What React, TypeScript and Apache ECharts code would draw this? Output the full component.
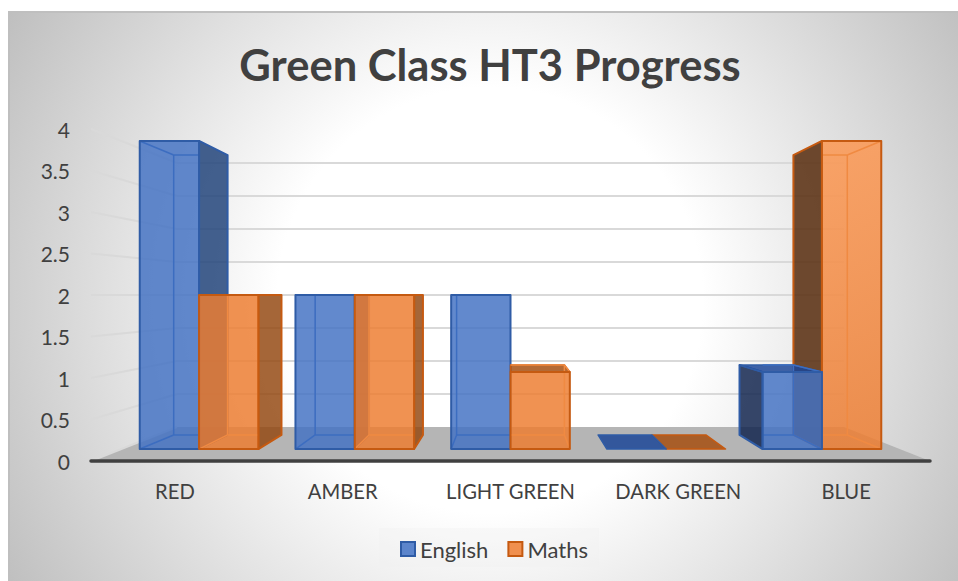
import React, { useEffect, useRef } from "react";
import * as echarts from "echarts";

const categories = ["RED", "AMBER", "LIGHT GREEN", "DARK GREEN", "BLUE"];
const english = [4, 2, 2, 0, 1];
const maths = [2, 2, 1, 0, 4];
const yTicks = [0, 0.5, 1, 1.5, 2, 2.5, 3, 3.5, 4];
const FONT = "Lato, 'Open Sans', sans-serif";

const S_FRONT = 0.928;
const S_BACK = 0.843;
const S_WALL = 0.795;
const BAR_RATIO = 0.381;
const HORIZON = 2;

const blue = {
  front: "rgba(68,114,196,0.84)", edge: "#2f5ca6", inner: "#3c6dc0",
  sideR: "rgba(32,67,122,0.84)", sideL: "rgba(17,36,78,0.84)", top: "rgba(26,69,151,0.84)",
};
const orange = {
  front: "rgba(237,125,49,0.84)", edge: "#c55a11", inner: "#f08a42",
  sideR: "rgba(148,73,18,0.84)", sideL: "rgba(85,40,9,0.84)", top: "rgba(166,77,14,0.84)",
};

function makeBarRender(seriesIdx: number, c: any) {
  return (_p: any, api: any) => {
    const cat = api.value(0);
    const v = api.value(1);
    const [catX, yTop] = api.coord([cat, v]);
    const yBase = api.coord([cat, 0])[1];
    const cx = api.coord([2, 0])[0];
    const hy = api.coord([0, HORIZON])[1];
    const barW = api.size([1, 0])[0] * BAR_RATIO;
    const x0 = seriesIdx === 0 ? catX - barW : catX;
    const x1 = seriesIdx === 0 ? catX : catX + barW;
    const pr = (x: number, y: number, s: number) => [cx + (x - cx) * s, hy + (y - hy) * s];
    const f = (x: number, y: number) => pr(x, y, S_FRONT);
    const b = (x: number, y: number) => pr(x, y, S_BACK);
    const rightOfCentre = cat > 2;
    const order = cat * 2 + (rightOfCentre ? 1 - seriesIdx : seriesIdx);
    const base = order * 10;
    const kids: any[] = [];
    const poly = (points: number[][], style: any, z: number) =>
      kids.push({ type: "polygon", shape: { points }, style, z2: base + z });
    const fl = f(x0, 0)[0];
    const fr = f(x1, 0)[0];
    const clamp = (x: number) => Math.max(fl, Math.min(fr, x));

    if (v > 0) {
      const sx = rightOfCentre ? x0 : x1;
      const bsx = b(sx, 0)[0];
      const fsx = f(sx, 0)[0];
      const outward = rightOfCentre ? bsx < fsx : bsx > fsx;
      if (outward) {
        poly([f(sx, yTop), b(sx, yTop), b(sx, yBase), f(sx, yBase)],
          { fill: rightOfCentre ? c.sideL : c.sideR, stroke: c.edge, lineWidth: 2, lineJoin: "round" }, 1);
      }
    }
    if (v < HORIZON) {
      poly([f(x0, yTop), f(x1, yTop), b(x1, yTop), b(x0, yTop)],
        { fill: c.top, stroke: c.edge, lineWidth: 1.5, lineJoin: "round" }, 2);
    }
    if (v > 0) {
      let frontFill: any = c.front;
      if (seriesIdx === 1 && v > HORIZON) {
        frontFill = new echarts.graphic.LinearGradient(0, 0, 0, 1, [
          { offset: 0, color: "rgba(252,150,80,0.84)" },
          { offset: 1, color: c.front },
        ]);
      }
      poly([f(x0, yTop), f(x1, yTop), f(x1, yBase), f(x0, yBase)], { fill: frontFill }, 3);
      const inner = { fill: "none", stroke: c.inner, lineWidth: 1.5 };
      const by0 = b(x0, yBase)[1];
      const byT = b(x0, yTop)[1];
      const bl = clamp(b(x0, 0)[0]);
      const br = clamp(b(x1, 0)[0]);
      poly([[bl, by0], [br, by0]], inner, 4);
      if (v !== HORIZON) poly([[bl, byT], [br, byT]], inner, 4);
      [x0, x1].forEach((xx) => {
        const bx = b(xx, 0)[0];
        if (bx > fl + 1 && bx < fr - 1) {
          poly([[bx, byT], [bx, by0]], inner, 4);
          poly([f(xx, yBase), b(xx, yBase)], inner, 4);
          if (v !== HORIZON) poly([f(xx, yTop), b(xx, yTop)], inner, 4);
        }
      });
      poly([f(x0, yTop), f(x1, yTop), f(x1, yBase), f(x0, yBase)],
        { fill: "none", stroke: c.edge, lineWidth: 2, lineJoin: "round" }, 5);
    }
    return { type: "group", children: kids };
  };
}

function renderFloor(_p: any, api: any) {
  const l = api.coord([0, 0]);
  const size = api.size([1, 0])[0];
  const left = l[0] - size / 2;
  const right = left + size * categories.length;
  const cx = (left + right) / 2;
  const hy = api.coord([0, HORIZON])[1];
  const pr = (x: number, y: number) => [cx + (x - cx) * S_WALL, hy + (y - hy) * S_WALL];
  return {
    type: "polygon",
    shape: { points: [[left, l[1]], [right, l[1]], pr(right, l[1]), pr(left, l[1])] },
    style: { fill: "#b5b5b5" },
  };
}

function renderWallLine(_p: any, api: any) {
  const t = api.value(0);
  const c0 = api.coord([0, t]);
  const size = api.size([1, 0])[0];
  const left = c0[0] - size / 2;
  const right = left + size * categories.length;
  const cx = (left + right) / 2;
  const hy = api.coord([0, HORIZON])[1];
  const pr = (x: number, y: number) => [cx + (x - cx) * S_WALL, hy + (y - hy) * S_WALL];
  const a = pr(left, c0[1]);
  const b = pr(right, c0[1]);
  const style = { stroke: "#d9d9d9", lineWidth: 2, fill: "none" };
  const children: any[] = [
    { type: "line", shape: { x1: left, y1: c0[1], x2: a[0], y2: a[1] }, style },
  ];
  if (t > 0) children.push({ type: "line", shape: { x1: a[0], y1: a[1], x2: b[0], y2: b[1] }, style });
  return { type: "group", children };
}

export default function App() {
  const ref = useRef<HTMLDivElement>(null);
  useEffect(() => {
    const chart = echarts.init(ref.current!, undefined, { renderer: "svg" });
    chart.setOption({
      animation: false,
      graphic: {
        elements: [
          {
            type: "rect",
            z: -10,
            silent: true,
            shape: { x: 9, y: 12, width: 960, height: 580 },
            style: {
              fill: new echarts.graphic.RadialGradient(490, 300, 560, [
                { offset: 0, color: "#ffffff" },
                { offset: 0.38, color: "#ffffff" },
                { offset: 1, color: "#bfbfbf" },
              ], true),
              stroke: "#bfbfbf",
              lineWidth: 2,
            },
          },
        ],
      },
      title: {
        text: "Green Class HT3 Progress",
        left: 485,
        top: 37,
        textAlign: "center",
        textStyle: { fontFamily: FONT, fontSize: 43.5, fontWeight: "bold", color: "#404040" },
      },
      legend: {
        selectedMode: false,
        left: 379,
        top: 528,
        padding: [10, 11, 7, 21],
        itemWidth: 14,
        itemHeight: 14,
        itemGap: 19,
        backgroundColor: "rgba(240,240,240,0.35)",
        textStyle: { fontFamily: FONT, fontSize: 22, color: "#404040" },
        data: [
          { name: "English", icon: "rect", itemStyle: { color: "#5c85cc", borderColor: "#2f5ca6", borderWidth: 2 } },
          { name: "Maths", icon: "rect", itemStyle: { color: "#f0904f", borderColor: "#c55a11", borderWidth: 2 } },
        ],
      },
      grid: { left: 91, right: 28, top: 129, bottom: 120 },
      xAxis: {
        type: "category",
        data: categories,
        z: 5,
        axisLine: { lineStyle: { color: "#404040", width: 3.5 } },
        axisTick: { show: false },
        axisLabel: { interval: 0, fontFamily: FONT, fontSize: 20.2, color: "#404040", margin: 20 },
      },
      yAxis: {
        type: "value",
        min: 0,
        max: 4,
        interval: 0.5,
        axisLine: { show: false },
        axisTick: { show: false },
        splitLine: { show: false },
        axisLabel: { fontFamily: FONT, fontSize: 21, color: "#404040", margin: 21 },
      },
      series: [
        { type: "custom", name: "floor", silent: true, z: 1, clip: false, data: [[0, 0]], renderItem: renderFloor, encode: { x: 1, y: 0 } },
        { type: "custom", name: "walls", silent: true, z: 1, clip: false, data: yTicks.map((t) => [t]), renderItem: renderWallLine, encode: { y: 0 } },
        {
          type: "custom", name: "English", silent: true, z: 2, clip: false,
          data: english.map((v, i) => [i, v]), encode: { x: 0, y: 1 },
          renderItem: makeBarRender(0, blue),
        },
        {
          type: "custom", name: "Maths", silent: true, z: 2, clip: false,
          data: maths.map((v, i) => [i, v]), encode: { x: 0, y: 1 },
          renderItem: makeBarRender(1, orange),
        },
      ],
    });
    return () => chart.dispose();
  }, []);
  return <div ref={ref} style={{ position: "absolute", left: 0, top: 0, width: 958, height: 581 }} />;
}
